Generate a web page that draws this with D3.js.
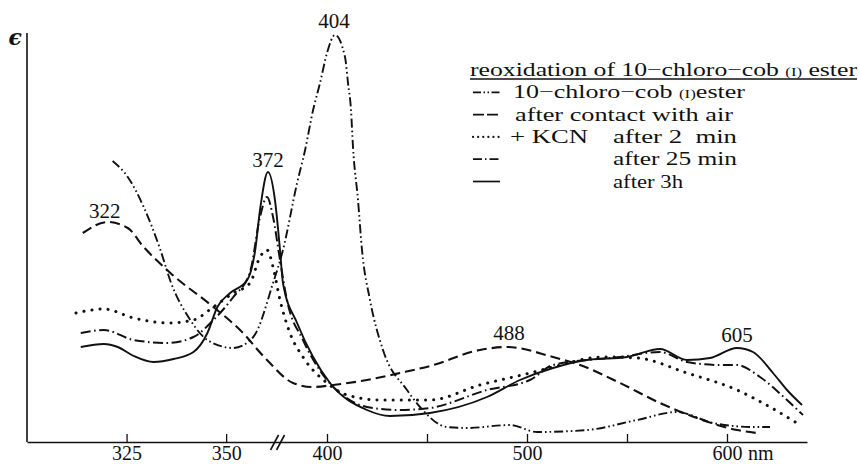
<!DOCTYPE html>
<html>
<head>
<meta charset="utf-8">
<script src="https://cdn.jsdelivr.net/npm/d3@7/dist/d3.min.js"></script>
<style>
  html, body { margin: 0; padding: 0; background: #fff; }
  svg { display: block; }
</style>
</head>
<body>
<svg id="chart" width="859" height="465"></svg>
<script>
// ---------- data (wavelength in nm, epsilon in arbitrary units) ----------
const tickValues = [325, 350, 400, 450, 500, 550, 600];
const tickLabels = ["325", "350", "400", "", "500", "", "600"];
const unitLabel = "nm";

// 10-chloro-cob(I) ester  (dash-dot-dot)
const chloroCobI = [
  [321.5,28.1],[325.3,26.5],[329.3,23.5],[333.5,19.2],[336,16.1],[341,12.2],[345.3,10.2],
  [351.8,9.4],[356.8,10.5],[374.4,15.9],[379.1,19.2],[385.8,25.9],[389.6,29.2],[393.4,33.2],
  [396.7,35.9],[400,38.9],[404,40.7],[409,38.5],[410.5,35.9],[412,33.2],[413,29.5],
  [415.5,24.2],[417.5,19.2],[421.5,14.2],[428,9.2],[440,5.2],[446.5,3.5],[460,1.5],
  [470,1.4],[491.5,1.7],[505,1.0],[530,1.2],[555,2.2],[575,3.0],[593,1.9],[613,1.5],[621.5,1.5]
];
// after contact with air (dashed)
const afterAir = [
  [314,20.9],[320.3,22.0],[325.3,21.4],[329.3,19.5],[336,16.9],[346.8,13.5],[353.5,11.2],
  [370.6,8.2],[383.9,5.9],[393.4,5.5],[403,5.7],[420,6.2],[436.5,6.9],[451.5,7.6],
  [476.5,9.2],[490,9.5],[513,8.5],[526.5,7.7],[546.5,5.9],[566.5,3.9],[585,2.4],[605,1.2],[615,0.9]
];
// + KCN after 2 min (dotted)
const kcn2min = [
  [312.3,12.9],[319.3,13.3],[326.8,12.4],[335.3,11.9],[341.8,12.2],[346.8,13.5],[351.8,14.9],
  [356,15.9],[360.8,18.5],[370.6,19.2],[374.4,17.5],[377.7,14.2],[382.4,10.9],[388.6,8.5],
  [400,5.9],[410,4.7],[426.5,4.2],[451.5,4.2],[476.5,5.7],[501.5,6.9],[513,7.5],[538,8.5],
  [555,8.4],[580,6.9],[605,5.2],[621.5,3.5],[636.5,1.7]
];
// after 25 min (dash-dot)
const after25min = [
  [313.5,10.9],[319.3,11.2],[326.8,10.2],[335.3,9.9],[341.8,10.5],[346.8,12.2],[351.8,14.5],
  [356,17.0],[360.8,22.5],[370.6,24.5],[374.4,22.5],[377.7,18.2],[381,14.2],[388.6,10.2],
  [400,6.2],[406.5,4.9],[420,3.5],[436.5,3.2],[451.5,3.4],[480,5.2],[501.5,6.2],[513,7.7],
  [546.5,8.5],[566.5,9.0],[580,8.0],[596.5,7.7],[605,7.7],[616.5,6.5],[630,4.2],[638,2.7]
];
// after 3 h (solid)
const after3h = [
  [313.5,9.5],[319.3,9.8],[322.8,9.5],[326.8,8.6],[331.8,8.0],[336.8,8.3],[341.8,9.0],
  [345.3,10.9],[347.8,13.5],[351,14.9],[355.3,16.2],[357.3,19.2],[360.8,23.2],[372,27.0],
  [375.3,24.2],[377.7,19.2],[379.1,15.9],[385.8,11.9],[393.4,8.5],[401.5,5.9],[420,3.2],
  [431.5,2.6],[451.5,2.9],[480,4.5],[496.5,6.2],[513,7.4],[530,8.2],[550,8.5],[566.5,9.3],
  [580,8.2],[591.5,8.4],[605,9.4],[613,9.0],[623,6.9],[630,5.2],[637.5,3.7]
];

const peakLabels = ["322", "372", "404", "488", "605"];
const peakNm     = [319.5, 372, 403.5, 491, 605];
const peakEps    = [22.4, 27.5, 41.4, 10.2, 10.0];

const legendTitle = "reoxidation of 10\u2212chloro\u2212cob ";
const legendRows = [
  {pre: "", text: "10\u2212chloro\u2212cob (I) ester"},
  {pre: "", text: "after contact with air"},
  {pre: "+ KCN", text: "after 2  min"},
  {pre: "", text: "after 25 min"},
  {pre: "", text: "after 3h"}
];

// ---------- chart ----------
const FONT = "Liberation Serif";
const INK = "#111";
const svg = d3.select("#chart");
const x = d3.scaleLinear().domain([300, 358, 372, 400, 640]).range([27, 258, 268, 327, 807]);
const y = d3.scaleLinear().domain([0, 40.9]).range([442, 33]);

const styles = [
  {data: chloroCobI, dash: "9,3,1.6,3,1.6,3", cap: "butt", w: 1.9},
  {data: afterAir,   dash: "10,5",             cap: "butt", w: 2.1},
  {data: kcn2min,    dash: "0.1,8",            cap: "round", w: 3.0},
  {data: after25min, dash: "10,3.5,1.6,3.5",   cap: "butt", w: 2.0},
  {data: after3h,    dash: null,               cap: "butt", w: 1.9}
];

const line = d3.line().x(d => x(d[0])).y(d => y(d[1])).curve(d3.curveMonotoneX);

svg.append("g").selectAll("path").data(styles).join("path")
  .attr("d", s => line(s.data))
  .attr("fill", "none").attr("stroke", INK)
  .attr("stroke-width", s => s.w)
  .attr("stroke-linecap", s => s.cap)
  .attr("stroke-dasharray", s => s.dash);

// axes
const xAxis = d3.axisBottom(x).tickValues(tickValues)
  .tickFormat((d, i) => tickLabels[i]).tickSize(-8).tickSizeOuter(0).tickPadding(4);
const gx = svg.append("g").attr("transform", `translate(0,${y(0)})`).call(xAxis)
  .attr("font-family", FONT);
gx.select(".domain").attr("stroke", INK).attr("stroke-width", 1.6);
gx.selectAll(".tick line").attr("stroke", INK).attr("stroke-width", 1.3);
gx.selectAll(".tick text").attr("font-family", FONT).attr("font-size", 20).attr("fill", INK);
gx.append("text").attr("x", x(600) + 21).attr("y", 4).attr("dy", "0.71em")
  .attr("font-family", FONT).attr("font-size", 20).attr("fill", INK)
  .attr("text-anchor", "start").text(unitLabel);

// axis break mark
const bx = x(377);
[-4, 2].forEach(o => {
  svg.append("line").attr("x1", bx + o - 4).attr("y1", y(0) + 8)
    .attr("x2", bx + o + 4).attr("y2", y(0) - 7)
    .attr("stroke", INK).attr("stroke-width", 1.6);
});

// y axis
svg.append("line").attr("x1", x(300)).attr("x2", x(300)).attr("y1", y(0)).attr("y2", y(40.9))
  .attr("stroke", INK).attr("stroke-width", 1.6);
svg.append("text").attr("x", x(300) - 5).attr("y", y(40.9) + 12).attr("text-anchor", "end")
  .attr("font-size", 22).attr("font-weight", "bold").attr("font-style", "italic")
  .attr("font-family", "DejaVu Serif").attr("fill", INK).text("\u03f5");

// peak labels
svg.append("g").selectAll("text").data(peakLabels).join("text")
  .attr("x", (d, i) => x(peakNm[i])).attr("y", (d, i) => y(peakEps[i]))
  .attr("text-anchor", "middle").attr("font-family", FONT).attr("font-size", 21)
  .attr("fill", INK).text(d => d);

// legend
const lg = svg.append("g").attr("font-family", FONT).attr("fill", INK);
const lx = 470, ly0 = 76, dy = 22.3;
const title = lg.append("text").attr("x", lx).attr("y", ly0).attr("font-size", 18.5)
  .attr("textLength", 387).attr("lengthAdjust", "spacingAndGlyphs");
title.append("tspan").text(legendTitle);
title.append("tspan").attr("font-size", 12).text("(I)");
title.append("tspan").text(" ester");
lg.append("line").attr("x1", lx).attr("x2", lx + 387).attr("y1", ly0 + 3).attr("y2", ly0 + 3)
  .attr("stroke", INK).attr("stroke-width", 1.3);

const sampleStyles = [
  {dash: "8,2.5,1.5,2.5,1.5,2.5", cap: "butt", w: 1.7, len: 27},
  {dash: "11,3", cap: "butt", w: 1.9, len: 25},
  {dash: "0.1,5", cap: "round", w: 2.1, len: 29},
  {dash: "9,3,1.5,3", cap: "butt", w: 1.7, len: 26},
  {dash: null, cap: "butt", w: 1.7, len: 27}
];
legendRows.forEach((r, i) => {
  const by = ly0 + dy * (i + 1);
  const s = sampleStyles[i];
  lg.append("line").attr("x1", lx + 3).attr("x2", lx + 3 + s.len).attr("y1", by - 6).attr("y2", by - 6)
    .attr("stroke", INK).attr("stroke-width", s.w).attr("stroke-linecap", s.cap)
    .attr("stroke-dasharray", s.dash);
  if (i === 0) {
    const t = lg.append("text").attr("x", 513).attr("y", by).attr("font-size", 18.5)
      .attr("textLength", 232).attr("lengthAdjust", "spacingAndGlyphs");
    t.append("tspan").text("10\u2212chloro\u2212cob ");
    t.append("tspan").attr("font-size", 12).text("(I)");
    t.append("tspan").text("ester");
  } else if (i === 1) {
    lg.append("text").attr("x", 515).attr("y", by).attr("font-size", 18.5)
      .attr("textLength", 218).attr("lengthAdjust", "spacingAndGlyphs").text(r.text);
  } else {
    if (r.pre) lg.append("text").attr("x", 510).attr("y", by).attr("font-size", 19)
      .attr("textLength", 78).attr("lengthAdjust", "spacingAndGlyphs").text(r.pre);
    lg.append("text").attr("x", 613).attr("y", by).attr("font-size", 18.5)
      .attr("textLength", i === 4 ? 70 : 124).attr("lengthAdjust", "spacingAndGlyphs")
      .attr("xml:space", "preserve").text(r.text);
  }
});
</script>
</body>
</html>
